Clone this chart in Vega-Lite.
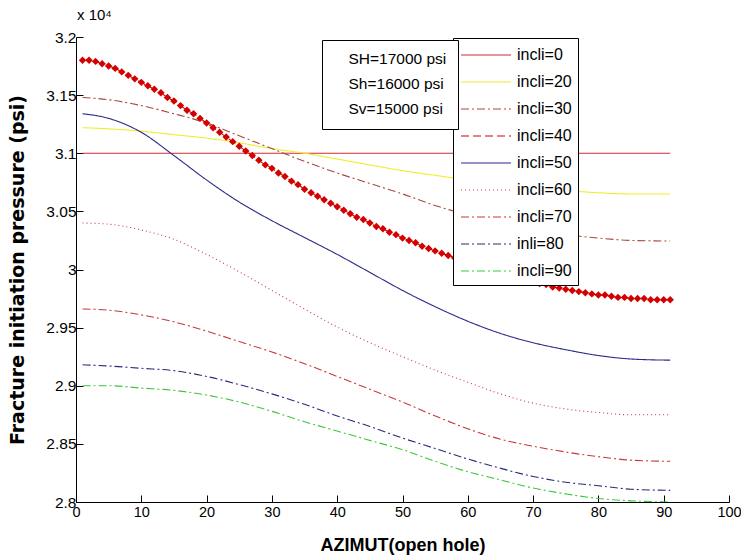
{
  "$schema": "https://vega.github.io/schema/vega-lite/v6.json",
  "width": 653,
  "height": 465,
  "autosize": {"type": "none"},
  "padding": {"left": 76, "top": 37, "right": 12, "bottom": 56},
  "background": "white",
  "title": {"text": "x 10⁴", "anchor": "start", "frame": "group", "offset": 7, "font": "Liberation Sans", "fontSize": 15, "fontWeight": "normal", "color": "black", "dx": 1},
  "config": {"view": {"stroke": null}},
  "data": {"values": [
    {"a":1,"s":"incli=0","p":31000},{"a":91,"s":"incli=0","p":31000},
    {"a":1,"s":"incli=20","p":31220},{"a":5,"s":"incli=20","p":31210},{"a":10,"s":"incli=20","p":31190},{"a":15,"s":"incli=20","p":31160},{"a":20,"s":"incli=20","p":31130},{"a":25,"s":"incli=20","p":31090},{"a":30,"s":"incli=20","p":31040},{"a":35,"s":"incli=20","p":31000},{"a":40,"s":"incli=20","p":30950},{"a":45,"s":"incli=20","p":30900},{"a":50,"s":"incli=20","p":30850},{"a":55,"s":"incli=20","p":30810},{"a":60,"s":"incli=20","p":30770},{"a":65,"s":"incli=20","p":30730},{"a":70,"s":"incli=20","p":30700},{"a":75,"s":"incli=20","p":30680},{"a":80,"s":"incli=20","p":30660},{"a":85,"s":"incli=20","p":30650},{"a":91,"s":"incli=20","p":30650},
    {"a":1,"s":"incli=30","p":31480},{"a":5,"s":"incli=30","p":31460},{"a":10,"s":"incli=30","p":31410},{"a":15,"s":"incli=30","p":31340},{"a":20,"s":"incli=30","p":31260},{"a":25,"s":"incli=30","p":31150},{"a":30,"s":"incli=30","p":31040},{"a":35,"s":"incli=30","p":30930},{"a":40,"s":"incli=30","p":30830},{"a":45,"s":"incli=30","p":30740},{"a":50,"s":"incli=30","p":30650},{"a":55,"s":"incli=30","p":30550},{"a":60,"s":"incli=30","p":30470},{"a":65,"s":"incli=30","p":30400},{"a":70,"s":"incli=30","p":30340},{"a":75,"s":"incli=30","p":30300},{"a":80,"s":"incli=30","p":30270},{"a":85,"s":"incli=30","p":30250},{"a":91,"s":"incli=30","p":30245},
    {"a":1,"s":"incli=40","p":31800},{"a":2,"s":"incli=40","p":31800},{"a":3,"s":"incli=40","p":31790},{"a":4,"s":"incli=40","p":31770},{"a":5,"s":"incli=40","p":31750},{"a":6,"s":"incli=40","p":31730},{"a":7,"s":"incli=40","p":31700},{"a":8,"s":"incli=40","p":31670},{"a":9,"s":"incli=40","p":31640},{"a":10,"s":"incli=40","p":31610},{"a":11,"s":"incli=40","p":31580},{"a":12,"s":"incli=40","p":31550},{"a":13,"s":"incli=40","p":31520},{"a":14,"s":"incli=40","p":31480},{"a":15,"s":"incli=40","p":31450},{"a":16,"s":"incli=40","p":31410},{"a":17,"s":"incli=40","p":31370},{"a":18,"s":"incli=40","p":31340},{"a":19,"s":"incli=40","p":31300},{"a":20,"s":"incli=40","p":31260},{"a":21,"s":"incli=40","p":31220},{"a":22,"s":"incli=40","p":31180},{"a":23,"s":"incli=40","p":31140},{"a":24,"s":"incli=40","p":31100},{"a":25,"s":"incli=40","p":31060},{"a":26,"s":"incli=40","p":31020},{"a":27,"s":"incli=40","p":30980},{"a":28,"s":"incli=40","p":30940},{"a":29,"s":"incli=40","p":30900},{"a":30,"s":"incli=40","p":30870},{"a":31,"s":"incli=40","p":30830},{"a":32,"s":"incli=40","p":30800},{"a":33,"s":"incli=40","p":30760},{"a":34,"s":"incli=40","p":30730},{"a":35,"s":"incli=40","p":30690},{"a":36,"s":"incli=40","p":30660},{"a":37,"s":"incli=40","p":30630},{"a":38,"s":"incli=40","p":30600},{"a":39,"s":"incli=40","p":30570},{"a":40,"s":"incli=40","p":30540},{"a":41,"s":"incli=40","p":30510},{"a":42,"s":"incli=40","p":30480},{"a":43,"s":"incli=40","p":30450},{"a":44,"s":"incli=40","p":30430},{"a":45,"s":"incli=40","p":30400},{"a":46,"s":"incli=40","p":30370},{"a":47,"s":"incli=40","p":30350},{"a":48,"s":"incli=40","p":30320},{"a":49,"s":"incli=40","p":30300},{"a":50,"s":"incli=40","p":30270},{"a":51,"s":"incli=40","p":30250},{"a":52,"s":"incli=40","p":30230},{"a":53,"s":"incli=40","p":30200},{"a":54,"s":"incli=40","p":30180},{"a":55,"s":"incli=40","p":30160},{"a":56,"s":"incli=40","p":30140},{"a":57,"s":"incli=40","p":30120},{"a":58,"s":"incli=40","p":30100},{"a":59,"s":"incli=40","p":30080},{"a":60,"s":"incli=40","p":30060},{"a":61,"s":"incli=40","p":30040},{"a":62,"s":"incli=40","p":30020},{"a":63,"s":"incli=40","p":30000},{"a":64,"s":"incli=40","p":29990},{"a":65,"s":"incli=40","p":29970},{"a":66,"s":"incli=40","p":29950},{"a":67,"s":"incli=40","p":29940},{"a":68,"s":"incli=40","p":29920},{"a":69,"s":"incli=40","p":29910},{"a":70,"s":"incli=40","p":29890},{"a":71,"s":"incli=40","p":29880},{"a":72,"s":"incli=40","p":29870},{"a":73,"s":"incli=40","p":29850},{"a":74,"s":"incli=40","p":29840},{"a":75,"s":"incli=40","p":29830},{"a":76,"s":"incli=40","p":29820},{"a":77,"s":"incli=40","p":29810},{"a":78,"s":"incli=40","p":29800},{"a":79,"s":"incli=40","p":29790},{"a":80,"s":"incli=40","p":29780},{"a":81,"s":"incli=40","p":29780},{"a":82,"s":"incli=40","p":29770},{"a":83,"s":"incli=40","p":29760},{"a":84,"s":"incli=40","p":29760},{"a":85,"s":"incli=40","p":29750},{"a":86,"s":"incli=40","p":29750},{"a":87,"s":"incli=40","p":29750},{"a":88,"s":"incli=40","p":29740},{"a":89,"s":"incli=40","p":29740},{"a":90,"s":"incli=40","p":29740},{"a":91,"s":"incli=40","p":29740},
    {"a":1,"s":"incli=50","p":31340},{"a":5,"s":"incli=50","p":31300},{"a":10,"s":"incli=50","p":31180},{"a":15,"s":"incli=50","p":30980},{"a":20,"s":"incli=50","p":30770},{"a":25,"s":"incli=50","p":30580},{"a":30,"s":"incli=50","p":30420},{"a":35,"s":"incli=50","p":30275},{"a":40,"s":"incli=50","p":30130},{"a":45,"s":"incli=50","p":29975},{"a":50,"s":"incli=50","p":29820},{"a":55,"s":"incli=50","p":29680},{"a":60,"s":"incli=50","p":29555},{"a":65,"s":"incli=50","p":29450},{"a":70,"s":"incli=50","p":29370},{"a":75,"s":"incli=50","p":29310},{"a":80,"s":"incli=50","p":29260},{"a":85,"s":"incli=50","p":29230},{"a":91,"s":"incli=50","p":29220},
    {"a":1,"s":"incli=60","p":30400},{"a":5,"s":"incli=60","p":30390},{"a":10,"s":"incli=60","p":30340},{"a":15,"s":"incli=60","p":30260},{"a":20,"s":"incli=60","p":30130},{"a":25,"s":"incli=60","p":29980},{"a":30,"s":"incli=60","p":29820},{"a":35,"s":"incli=60","p":29660},{"a":40,"s":"incli=60","p":29505},{"a":45,"s":"incli=60","p":29370},{"a":50,"s":"incli=60","p":29250},{"a":55,"s":"incli=60","p":29135},{"a":60,"s":"incli=60","p":29030},{"a":65,"s":"incli=60","p":28930},{"a":70,"s":"incli=60","p":28850},{"a":75,"s":"incli=60","p":28800},{"a":80,"s":"incli=60","p":28770},{"a":85,"s":"incli=60","p":28750},{"a":91,"s":"incli=60","p":28750},
    {"a":1,"s":"incli=70","p":29660},{"a":5,"s":"incli=70","p":29650},{"a":10,"s":"incli=70","p":29610},{"a":15,"s":"incli=70","p":29550},{"a":20,"s":"incli=70","p":29470},{"a":25,"s":"incli=70","p":29380},{"a":30,"s":"incli=70","p":29290},{"a":35,"s":"incli=70","p":29190},{"a":40,"s":"incli=70","p":29080},{"a":45,"s":"incli=70","p":28970},{"a":50,"s":"incli=70","p":28860},{"a":55,"s":"incli=70","p":28740},{"a":60,"s":"incli=70","p":28630},{"a":65,"s":"incli=70","p":28540},{"a":70,"s":"incli=70","p":28480},{"a":75,"s":"incli=70","p":28430},{"a":80,"s":"incli=70","p":28390},{"a":85,"s":"incli=70","p":28360},{"a":91,"s":"incli=70","p":28350},
    {"a":1,"s":"inli=80","p":29180},{"a":5,"s":"inli=80","p":29170},{"a":10,"s":"inli=80","p":29150},{"a":15,"s":"inli=80","p":29130},{"a":20,"s":"inli=80","p":29080},{"a":25,"s":"inli=80","p":29010},{"a":30,"s":"inli=80","p":28930},{"a":35,"s":"inli=80","p":28840},{"a":40,"s":"inli=80","p":28740},{"a":45,"s":"inli=80","p":28650},{"a":50,"s":"inli=80","p":28550},{"a":55,"s":"inli=80","p":28460},{"a":60,"s":"inli=80","p":28370},{"a":65,"s":"inli=80","p":28290},{"a":70,"s":"inli=80","p":28220},{"a":75,"s":"inli=80","p":28170},{"a":80,"s":"inli=80","p":28140},{"a":85,"s":"inli=80","p":28110},{"a":91,"s":"inli=80","p":28100},
    {"a":1,"s":"incli=90","p":29000},{"a":5,"s":"incli=90","p":29000},{"a":10,"s":"incli=90","p":28980},{"a":15,"s":"incli=90","p":28960},{"a":20,"s":"incli=90","p":28920},{"a":25,"s":"incli=90","p":28860},{"a":30,"s":"incli=90","p":28780},{"a":35,"s":"incli=90","p":28690},{"a":40,"s":"incli=90","p":28610},{"a":45,"s":"incli=90","p":28530},{"a":50,"s":"incli=90","p":28450},{"a":55,"s":"incli=90","p":28350},{"a":60,"s":"incli=90","p":28260},{"a":65,"s":"incli=90","p":28190},{"a":70,"s":"incli=90","p":28120},{"a":75,"s":"incli=90","p":28070},{"a":80,"s":"incli=90","p":28030},{"a":85,"s":"incli=90","p":28010},{"a":91,"s":"incli=90","p":28000}
  ]},
  "layer": [
    {
      "mark": {"type": "line", "strokeWidth": 1.1, "interpolate": "monotone", "clip": true},
      "encoding": {
        "x": {"field": "a", "type": "quantitative", "scale": {"domain": [0, 100], "nice": false},
          "axis": {"values": [0,10,20,30,40,50,60,70,80,90,100], "grid": false, "title": "AZIMUT(open hole)",
            "titleFont": "Liberation Sans", "titleFontSize": 18, "titleFontWeight": "bold", "titleColor": "black", "titlePadding": 18,
            "labelFont": "Liberation Sans", "labelFontSize": 14.5, "labelColor": "black", "labelFlush": false,
            "tickSize": -7, "labelPadding": 10, "tickColor": "black", "domainColor": "black", "domainWidth": 1, "tickWidth": 1}},
        "y": {"field": "p", "type": "quantitative", "scale": {"domain": [28000, 32000], "nice": false, "zero": false},
          "axis": {"values": [28000,28500,29000,29500,30000,30500,31000,31500,32000], "grid": false, "labelExpr": "datum.value/10000",
            "title": "Fracture initiation pressure (psi)", "titleFont": "DejaVu Sans", "titleFontSize": 19, "titleFontWeight": "bold", "titleColor": "black", "titleX": -49,
            "labelFont": "Liberation Sans", "labelFontSize": 15.5, "labelColor": "black", "labelFlush": false,
            "tickSize": -7, "labelPadding": 7, "tickColor": "black", "domainColor": "black", "domainWidth": 1, "tickWidth": 1}},
        "color": {"field": "s", "type": "nominal",
          "scale": {"domain": ["incli=0","incli=20","incli=30","incli=40","incli=50","incli=60","incli=70","inli=80","incli=90"],
            "range": ["#d22a2a","#f0ee2a","#a84a3c","#d40000","#2a2a8a","#d03a3a","#c83a3a","#2a2a7a","#3cc83c"]},
          "legend": {"title": null, "orient": "none", "legendX": 377, "legendY": 1, "fillColor": "white", "strokeColor": "black", "padding": 6,
            "labelFont": "Liberation Sans", "labelFontSize": 16, "labelColor": "black", "symbolSize": 400, "symbolStrokeWidth": 1.2,
            "rowPadding": 8, "symbolOffset": 16, "labelOffset": 20, "labelLimit": 300, "symbolType": "M-2.5,0H2.5"}},
        "strokeDash": {"field": "s", "type": "nominal",
          "scale": {"domain": ["incli=0","incli=20","incli=30","incli=40","incli=50","incli=60","incli=70","inli=80","incli=90"],
            "range": [[1,0],[1,0],[8,3,2,3],[8,4],[1,0],[1,3],[8,3,2,3],[8,3,2,3],[8,3,2,3]]},
          "legend": {"title": null, "orient": "none", "legendX": 377, "legendY": 1, "fillColor": "white", "strokeColor": "black", "padding": 6,
            "labelFont": "Liberation Sans", "labelFontSize": 16, "labelColor": "black", "symbolSize": 400, "symbolStrokeWidth": 1.2,
            "rowPadding": 8, "symbolOffset": 16, "labelOffset": 20, "labelLimit": 300, "symbolType": "M-2.5,0H2.5"}}
      }
    },
    {
      "transform": [{"filter": "datum.s == 'incli=40'"}],
      "mark": {"type": "point", "shape": "diamond", "filled": true, "color": "#d40000", "size": 55, "opacity": 1},
      "encoding": {
        "x": {"field": "a", "type": "quantitative"},
        "y": {"field": "p", "type": "quantitative"}
      }
    },
    {
      "data": {"values": [{"t": "SH=17000 psi"}, {"t": "Sh=16000 psi"}, {"t": "Sv=15000 psi"}]},
      "mark": {"type": "point", "opacity": 0},
      "encoding": {
        "shape": {"field": "t", "type": "nominal", "sort": null,
          "legend": {"title": null, "orient": "none", "legendX": 246, "legendY": 3, "fillColor": "white", "strokeColor": "black", "padding": 11,
            "labelFont": "Liberation Sans", "labelFontSize": 15.5, "labelColor": "black", "symbolSize": 0, "symbolOpacity": 0, "symbolStrokeWidth": 0,
            "labelOffset": 0, "rowPadding": 8}}
      }
    }
  ]
}
